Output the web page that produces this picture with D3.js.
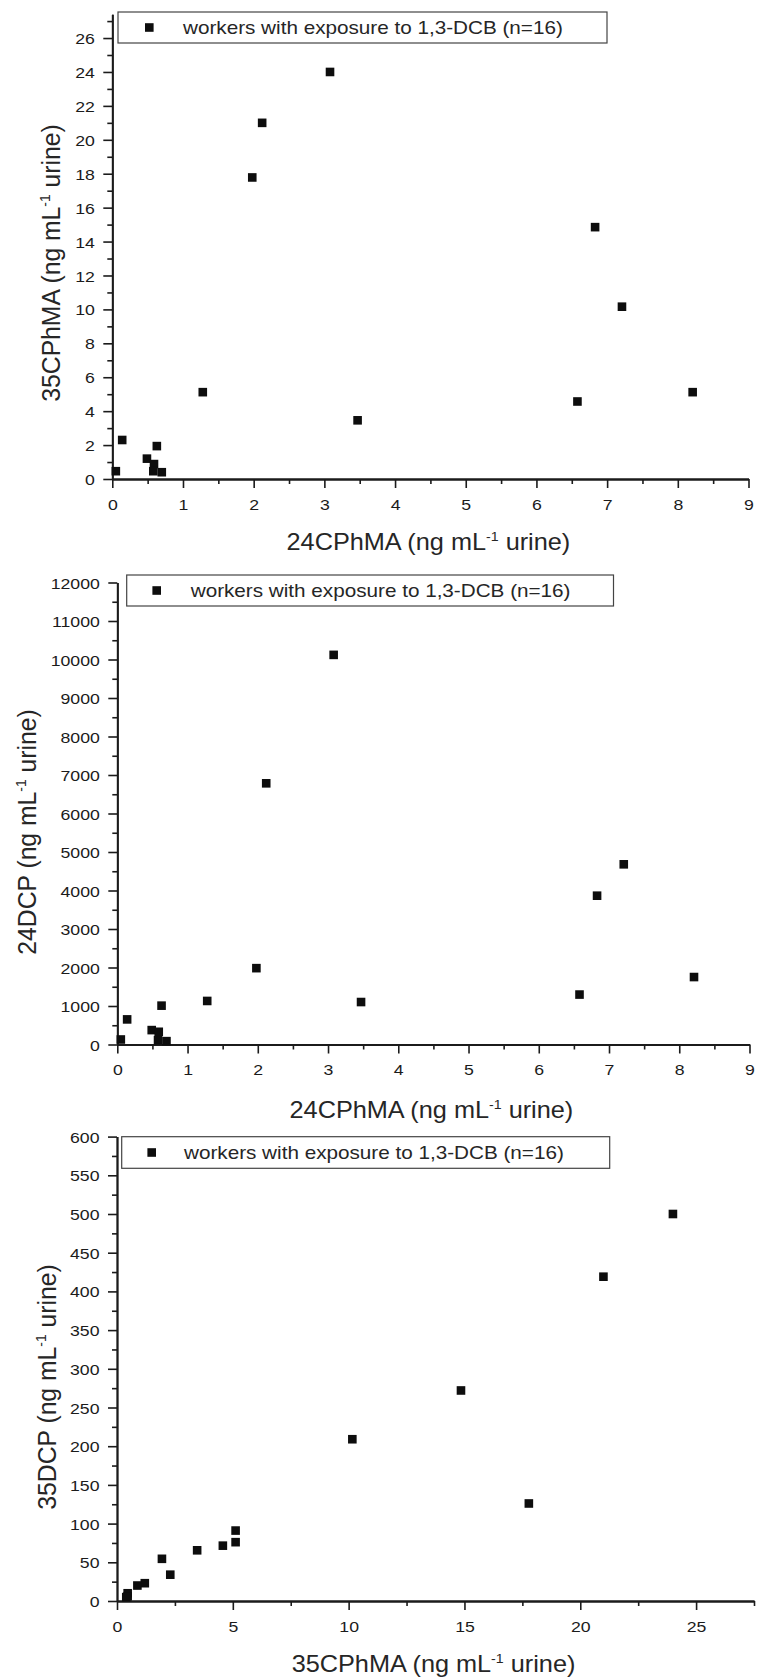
<!DOCTYPE html>
<html>
<head>
<meta charset="utf-8">
<script src="https://cdn.jsdelivr.net/npm/d3@7"></script>
<style>
  html, body { margin: 0; padding: 0; background: #fff; }
  svg { display: block; }
</style>
</head>
<body>
<script>
// Urinary biomarkers of 16 workers exposed to 1,3-dichlorobenzene (ng mL-1 urine)
const cphma24 = [0.05, 0.14, 0.49, 0.59, 0.58, 0.63, 0.70, 1.28, 1.98, 2.12, 3.08, 3.47, 6.58, 6.83, 7.21, 8.21];
const cphma35 = [0.46, 2.30, 1.20, 0.88, 0.46, 1.94, 0.40, 5.12, 17.78, 21.0, 24.0, 3.46, 4.57, 14.85, 10.16, 5.12];
const dcp24   = [130, 652, 374, 330, 113, 1009, 87, 1131, 1983, 6784, 10120, 1103, 1297, 3865, 4680, 1752];
const dcp35   = [10, 34, 23, 20, 6, 54.5, 5, 76, 126, 419, 500, 65.5, 71.5, 272, 209, 91];

const legendLabel = "workers with exposure to 1,3-DCB (n=16)";

// tick values
const ticksCphma24 = [0, 1, 2, 3, 4, 5, 6, 7, 8, 9];
const minorCphma24 = [0.5, 1.5, 2.5, 3.5, 4.5, 5.5, 6.5, 7.5, 8.5];
const ticksCphma35Y = [0, 2, 4, 6, 8, 10, 12, 14, 16, 18, 20, 22, 24, 26];
const minorCphma35Y = [1, 3, 5, 7, 9, 11, 13, 15, 17, 19, 21, 23, 25, 27];
const ticksDcp24 = [0, 1000, 2000, 3000, 4000, 5000, 6000, 7000, 8000, 9000, 10000, 11000, 12000];
const minorDcp24 = [500, 1500, 2500, 3500, 4500, 5500, 6500, 7500, 8500, 9500, 10500, 11500];
const ticksCphma35X = [0, 5, 10, 15, 20, 25];
const minorCphma35X = [2.5, 7.5, 12.5, 17.5, 22.5, 27.5];
const ticksDcp35 = [0, 50, 100, 150, 200, 250, 300, 350, 400, 450, 500, 550, 600];
const minorDcp35 = [25, 75, 125, 175, 225, 275, 325, 375, 425, 475, 525, 575];

const W = 757, H = 1677;
const FONT = "'Liberation Sans', Arial, sans-serif";
const INK = "#1b1b1b";
const STRETCH = 1.14;   // glyphs are drawn slightly wide

const svg = d3.select("body").append("svg")
  .attr("width", W).attr("height", H)
  .attr("viewBox", `0 0 ${W} ${H}`);
svg.append("rect").attr("width", W).attr("height", H).attr("fill", "#fff");

const panels = [
  {
    xs: cphma24, ys: cphma35,
    xDomain: [0, 9], yDomain: [0, 27.4],
    xTicks: ticksCphma24, xMinor: minorCphma24,
    yTicks: ticksCphma35Y, yMinor: minorCphma35Y,
    left: 112.3, right: 748.5, bottom: 479, top: 14.3,
    xTitle: ["24CPhMA (ng mL", "-1", " urine)"],
    yTitle: ["35CPhMA (ng mL", "-1", " urine)"],
    xTitleY: 549.5, yTitleX: 60, yTitleCy: 263,
    legend: { x0: 118, y0: 12, x1: 607, y1: 43, mx: 149.3, tx: 183 }
  },
  {
    xs: cphma24, ys: dcp24,
    xDomain: [0, 9], yDomain: [0, 12000],
    xTicks: ticksCphma24, xMinor: minorCphma24,
    yTicks: ticksDcp24, yMinor: minorDcp24,
    left: 117.3, right: 749.5, bottom: 1044.5, top: 582.5,
    xTitle: ["24CPhMA (ng mL", "-1", " urine)"],
    yTitle: ["24DCP (ng mL", "-1", " urine)"],
    xTitleY: 1118, yTitleX: 36, yTitleCy: 832,
    legend: { x0: 126.7, y0: 575, x1: 613.5, y1: 606, mx: 156.7, tx: 190.7 }
  },
  {
    xs: cphma35, ys: dcp35,
    xDomain: [0, 27.5], yDomain: [0, 600],
    xTicks: ticksCphma35X, xMinor: minorCphma35X,
    yTicks: ticksDcp35, yMinor: minorDcp35,
    left: 117, right: 754, bottom: 1601, top: 1136.6,
    xTitle: ["35CPhMA (ng mL", "-1", " urine)"],
    yTitle: ["35DCP (ng mL", "-1", " urine)"],
    xTitleY: 1672, yTitleX: 55.5, yTitleCy: 1387,
    legend: { x0: 121.7, y0: 1136.7, x1: 609.7, y1: 1168.3, mx: 151.7, tx: 184 }
  }
];

function styleAxis(g) {
  g.attr("font-family", FONT).attr("font-size", 15.5);
  g.selectAll("path.domain").attr("stroke", INK).attr("stroke-width", 1.8);
  g.selectAll(".tick line").attr("stroke", INK).attr("stroke-width", 1.6);
  g.selectAll(".tick text").attr("fill", INK);
}

// title text with a superscript unit exponent
function addTitle(sel, parts, size) {
  sel.append("tspan").text(parts[0]);
  sel.append("tspan").attr("font-size", size * 0.56).attr("dy", -size * 0.37).text(parts[1]);
  sel.append("tspan").attr("dy", size * 0.37).text(parts[2]);
}

panels.forEach(p => {
  const g = svg.append("g");
  const x = d3.scaleLinear().domain(p.xDomain).range([p.left, p.right]);
  const y = d3.scaleLinear().domain(p.yDomain).range([p.bottom, p.top]);

  // minor ticks
  g.append("g").attr("transform", `translate(0,${p.bottom})`)
    .call(d3.axisBottom(x).tickValues(p.xMinor).tickSize(5).tickSizeOuter(0).tickFormat(""))
    .call(styleAxis);
  g.append("g").attr("transform", `translate(${p.left},0)`)
    .call(d3.axisLeft(y).tickValues(p.yMinor.filter(v => v <= p.yDomain[1])).tickSize(5).tickSizeOuter(0).tickFormat(""))
    .call(styleAxis);

  // major ticks + labels
  const gx = g.append("g").attr("transform", `translate(0,${p.bottom})`)
    .call(d3.axisBottom(x).tickValues(p.xTicks).tickSize(9).tickSizeOuter(0).tickFormat(d3.format("d")))
    .call(styleAxis);
  gx.selectAll(".tick text")
    .attr("y", 0).attr("dy", 0)
    .attr("transform", `translate(0,${30.5}) scale(${STRETCH},1)`);

  const gy = g.append("g").attr("transform", `translate(${p.left},0)`)
    .call(d3.axisLeft(y).tickValues(p.yTicks).tickSize(9).tickSizeOuter(0).tickFormat(d3.format("d")))
    .call(styleAxis);
  gy.selectAll(".tick text")
    .attr("x", 0).attr("dy", "0.36em")
    .attr("transform", `translate(${-17.5},0) scale(${STRETCH},1)`);

  // points
  const pts = p.xs.map((v, i) => [v, p.ys[i]]);
  const M = 8.6;
  g.append("g").selectAll("rect").data(pts).join("rect")
    .attr("x", d => x(d[0]) - M / 2)
    .attr("y", d => y(d[1]) - M / 2)
    .attr("width", M).attr("height", M)
    .attr("fill", "#0d0d0d");

  // x title
  const xt = g.append("text")
    .attr("font-family", FONT).attr("font-size", 23).attr("fill", "#262626")
    .attr("text-anchor", "middle")
    .attr("transform", `translate(${(p.left + p.right) / 2 - 2},${p.xTitleY}) scale(1.1,1)`);
  addTitle(xt, p.xTitle, 23);

  // y title
  const yt = g.append("text")
    .attr("font-family", FONT).attr("font-size", 24).attr("fill", "#262626")
    .attr("text-anchor", "middle")
    .attr("transform", `translate(${p.yTitleX},${p.yTitleCy}) rotate(-90) scale(1.03,1.1)`);
  addTitle(yt, p.yTitle, 24);

  // legend
  const L = p.legend;
  g.append("rect")
    .attr("x", L.x0).attr("y", L.y0)
    .attr("width", L.x1 - L.x0).attr("height", L.y1 - L.y0)
    .attr("fill", "#fff").attr("stroke", "#444").attr("stroke-width", 1.2);
  const cy = (L.y0 + L.y1) / 2;
  g.append("rect")
    .attr("x", L.mx - M / 2).attr("y", cy - M / 2)
    .attr("width", M).attr("height", M).attr("fill", "#0d0d0d");
  g.append("text")
    .attr("font-family", FONT).attr("font-size", 18).attr("fill", "#262626")
    .attr("transform", `translate(${L.tx},${cy + 6.3}) scale(${STRETCH + 0.01},1)`)
    .text(legendLabel);
});
</script>
</body>
</html>
